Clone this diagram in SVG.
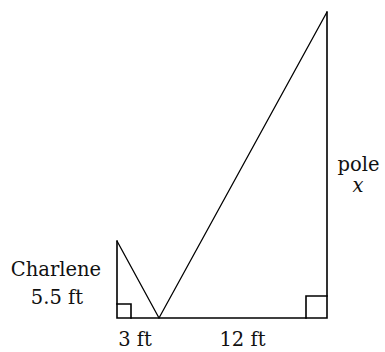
<svg xmlns="http://www.w3.org/2000/svg" width="385" height="352" viewBox="0 0 385 352">
<style>
.ln{stroke:#000;stroke-width:1.6;fill:none;stroke-linecap:square}
.dg{stroke:#000;stroke-width:1.3;fill:none}
.t{font-family:"DejaVu Serif","Liberation Serif",serif;font-size:19.5px;fill:#111}
</style>
<rect width="385" height="352" fill="#fff"/>
<g id="figure">
<path class="ln" d="M117,241 V318 H327 V12"/>
<path class="dg" d="M117,241 L159,318 L327,12"/>
<path class="ln" d="M117,304 H131 V318"/>
<path class="ln" d="M306,318 V296 H327"/>
</g>
<g id="labels">
<text class="t" x="56" y="276" text-anchor="middle">Charlene</text>
<text class="t" x="57" y="304" text-anchor="middle">5.5 ft</text>
<text class="t" x="135" y="346" text-anchor="middle">3 ft</text>
<text class="t" x="242.5" y="346" text-anchor="middle">12 ft</text>
<text class="t" x="358.5" y="171" text-anchor="middle">pole</text>
<text class="t" x="358" y="192" text-anchor="middle" font-style="italic">x</text>
</g>
</svg>
